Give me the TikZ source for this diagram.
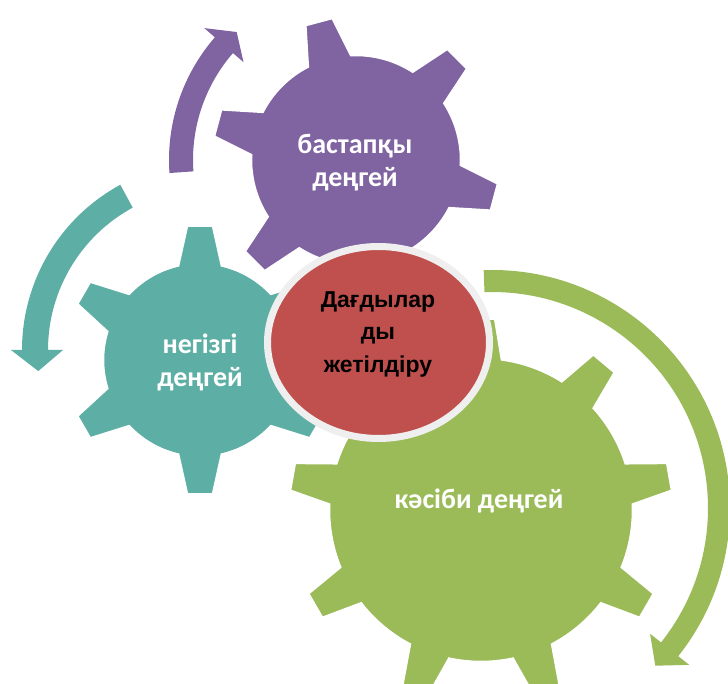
\documentclass[tikz,border=0pt]{standalone}
\usepackage{fontspec}
\newfontfamily\gearfont{Carlito}
\newfontfamily\hubfont{Liberation Sans Bold}
\definecolor{gteal}{HTML}{5DAFA5}
\definecolor{gpurple}{HTML}{8064A2}
\definecolor{ggreen}{HTML}{9BBB59}
\definecolor{gred}{HTML}{C0504D}
\definecolor{gring}{HTML}{EFEFEF}
\begin{document}
\begin{tikzpicture}[x=1pt,y=1pt,
  gearshape/.style={draw=white, line width=2.5pt, line join=miter},
  arrowshape/.style={draw=none},
  geartext/.style={text=white, font=\gearfont\bfseries\fontsize{28}{33}\selectfont, align=center},
  hubtext/.style={text=black, font=\hubfont\fontsize{23}{32.5}\selectfont, align=center}]
\useasboundingbox (0,0) rectangle (728,-684);
\clip (0,0) rectangle (728,-684);

% teal gear
\begin{scope}[shift={(200,-360)}]
\filldraw[gearshape, fill=gteal] (17:97) \foreach \a in {30,90,...,330}{ -- (\a-13:97) -- (\a-5.5:135) -- (\a+5.5:135) -- (\a+13:97) arc[start angle=\a+13, end angle=\a+47, radius=97]} -- cycle;
\end{scope}

% purple gear
\begin{scope}[shift={(356,-160)}]
\filldraw[gearshape, fill=gpurple] (-27.3:105) \foreach \a in {-15,45,...,285}{ -- (\a-12.3:105) -- (\a-5.6:144) -- (\a+5.6:144) -- (\a+12.3:105) arc[start angle=\a+12.3, end angle=\a+47.7, radius=105]} -- cycle;
\end{scope}

% green gear
\begin{scope}[shift={(481,-510)}]
\filldraw[gearshape, fill=ggreen] (2.1:152) \foreach \a in {10,50,...,330}{ -- (\a-7.9:152) -- (\a-4.2:192) -- (\a+4.2:192) -- (\a+7.9:152) arc[start angle=\a+7.9, end angle=\a+32.1, radius=152]} -- cycle;
\end{scope}

% purple arrow
\begin{scope}[shift={(356,-160)}]
\fill[arrowshape, gpurple] (184:187) arc[start angle=184, end angle=139, radius=187] -- (139:201) -- (133:175) -- (139:149) -- (139:163) arc[start angle=139, end angle=184, radius=163] -- cycle;
\end{scope}

% teal arrow
\begin{scope}[shift={(210,-350)}]
\fill[arrowshape, gteal] (118.5:188) arc[start angle=118.5, end angle=180, radius=188] -- (180:199) -- (187:173) -- (180:147) -- (180:162) arc[start angle=180, end angle=118.5, radius=162] -- cycle;
\end{scope}

% green arrow
\begin{scope}[shift={(492,-508)}]
\fill[arrowshape, ggreen] (92:238) arc[start angle=92, end angle=-38.5, radius=238] -- (-38.5:252) -- (-44:227) -- (-38.5:202) -- (-38.5:216) arc[start angle=-38.5, end angle=92, radius=216] -- cycle;
\end{scope}

% centre
\filldraw[fill=gred, draw=gring, line width=7pt] (378.5,-342.5) ellipse[x radius=111, y radius=96];

\node[geartext] (t1) at (355,-163) {бастапқы\\деңгей};
\node[geartext] (t2) at (200,-362) {негізгі\\деңгей};
\node[geartext] (t3) at (479,-501) {кәсіби деңгей};
\node[hubtext] (hub) at (378,-334) {Дағдылар\\ды\\жетілдіру};
\end{tikzpicture}
\end{document}
